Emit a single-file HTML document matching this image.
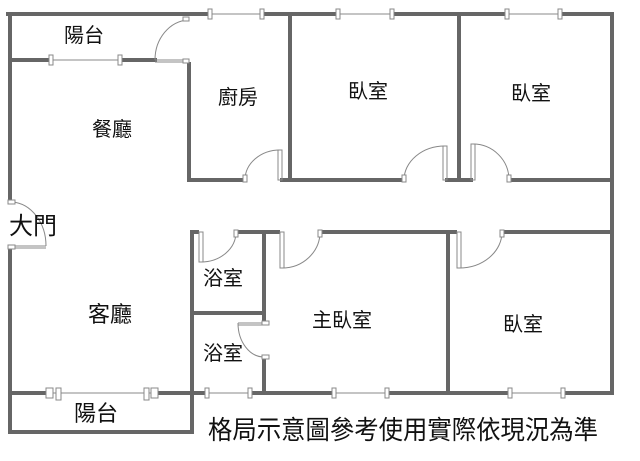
<!DOCTYPE html>
<html><head><meta charset="utf-8"><style>
html,body{margin:0;padding:0;background:#fff;width:640px;height:461px;overflow:hidden}
svg{display:block}
text{font-family:"Liberation Sans","Noto Sans CJK TC",sans-serif;fill:#111}
</style></head><body>
<svg width="640" height="461" viewBox="0 0 640 461" xmlns="http://www.w3.org/2000/svg">
<g stroke="#666" stroke-width="4" fill="none" stroke-linecap="square">
<path d="M8 14H210 M262 14H338 M392 14H507 M560 14H612"/>
<path d="M612 14V393"/>
<path d="M10 14V200 M10 250V432"/>
<path d="M10 60H50 M120 60H155"/>
<path d="M189 64V180H245 M290 14V180 M282 180H404 M447 180H471 M459 14V180 M509 180H612"/>
<path d="M192 232H197 M236 232H278 M320 232H455 M502 232H612"/>
<path d="M192 232V432 M10 432H192 M264 232V322 M264 357V393 M192 313H264 M448 232V393"/>
<path d="M10 393H50 M155 393H192 M192 393H207 M250 393H334 M387 393H510 M563 393H612"/>
</g>
<g stroke="#888" stroke-width="1" fill="#fff">
<line x1="210" y1="14" x2="262" y2="14"/><rect x="208" y="9" width="4" height="10"/><rect x="260" y="9" width="4" height="10"/>
<line x1="338" y1="14" x2="392" y2="14"/><rect x="336" y="9" width="4" height="10"/><rect x="390" y="9" width="4" height="10"/>
<line x1="507" y1="14" x2="560" y2="14"/><rect x="505" y="9" width="4" height="10"/><rect x="558" y="9" width="4" height="10"/>
<line x1="50" y1="60" x2="120" y2="60"/><rect x="49" y="55" width="4" height="10"/><rect x="118" y="55" width="4" height="10"/>
<line x1="50" y1="393" x2="155" y2="393"/><rect x="46" y="388" width="7" height="10"/><rect x="56" y="388" width="5" height="12"/><rect x="144" y="388" width="5" height="12"/><rect x="151" y="388" width="7" height="10"/>
<line x1="207" y1="393" x2="250" y2="393"/><rect x="205" y="388" width="4" height="10"/><rect x="248" y="388" width="4" height="10"/>
<line x1="334" y1="393" x2="387" y2="393"/><rect x="332" y="388" width="4" height="10"/><rect x="385" y="388" width="4" height="10"/>
<line x1="510" y1="393" x2="563" y2="393"/><rect x="508" y="388" width="4" height="10"/><rect x="561" y="388" width="4" height="10"/>
</g>
<g stroke="#888" stroke-width="1" fill="none">
<path d="M188 20A35 40 0 0 0 155 60"/><path d="M155 60H188 M155 62H188"/><rect x="183" y="17" width="6" height="4" fill="#fff"/><rect x="183" y="59" width="6" height="4" fill="#fff"/>
<path d="M280 150A35 30 0 0 0 245 180"/><rect x="278" y="150" width="4" height="30"/><rect x="243" y="175" width="4" height="7" fill="#fff"/>
<path d="M445 146A41 34 0 0 0 404 180"/><rect x="443" y="146" width="4" height="34"/><rect x="402" y="175" width="4" height="7" fill="#fff"/>
<path d="M473 144A36 36 0 0 1 509 180"/><rect x="471" y="144" width="4" height="36"/><rect x="507" y="175" width="4" height="7" fill="#fff"/>
<path d="M12 202A36 44 0 0 1 46 246"/><path d="M10 246H46 M10 248H46"/><rect x="8" y="200" width="7" height="4" fill="#fff"/><rect x="8" y="245" width="7" height="4" fill="#fff"/>
<path d="M201 262A35 30 0 0 0 236 232"/><rect x="199" y="232" width="4" height="30"/><rect x="234" y="230" width="4" height="7" fill="#fff"/>
<path d="M282 268A38 36 0 0 0 320 232"/><rect x="280" y="232" width="4" height="36"/><rect x="318" y="230" width="4" height="7" fill="#fff"/>
<path d="M459 268A43 36 0 0 0 502 232"/><rect x="457" y="232" width="4" height="36"/><rect x="500" y="230" width="4" height="7" fill="#fff"/>
<path d="M238 323A26 34 0 0 0 264 357"/><path d="M238 323H264 M238 325H264"/><rect x="262" y="321" width="7" height="4" fill="#fff"/><rect x="262" y="355" width="7" height="4" fill="#fff"/>
</g>
<g font-size="20">
<text x="64" y="42">陽台</text>
<text x="92" y="136">餐廳</text>
<text x="218" y="104">廚房</text>
<text x="348" y="98">臥室</text>
<text x="511" y="100">臥室</text>
<text x="203" y="285">浴室</text>
<text x="203" y="360">浴室</text>
<text x="312" y="327">主臥室</text>
<text x="503" y="331">臥室</text>
<text x="88" y="322" font-size="22">客廳</text>
<text x="74" y="421" font-size="22">陽台</text>
<text x="9" y="234" font-size="24">大門</text>
</g>
<text x="208" y="439" font-size="26" textLength="390" lengthAdjust="spacingAndGlyphs">格局示意圖參考使用實際依現況為準</text>
</svg>
</body></html>
